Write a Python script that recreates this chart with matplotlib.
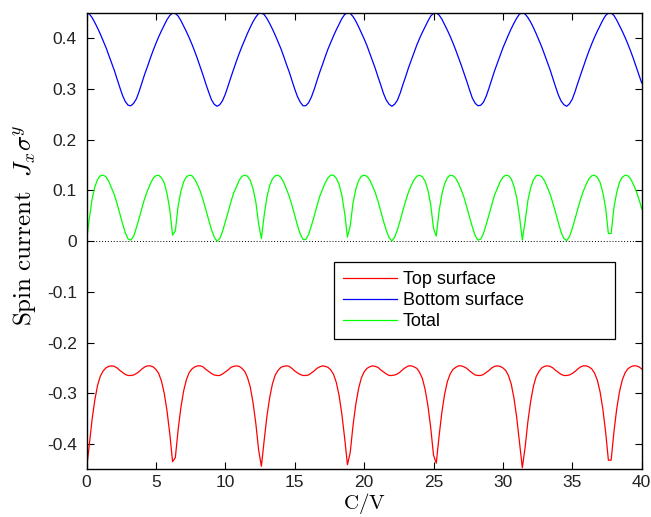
import numpy as np
import matplotlib
matplotlib.use("Agg")
import matplotlib.pyplot as plt

plt.rcParams['mathtext.fontset'] = 'cm'
plt.rcParams['font.family'] = ['Liberation Sans', 'DejaVu Sans']

# sample grid of the abscissa c/V (0 to 40, step 0.2)
c_over_v = np.linspace(0, 40, 201)

top_surface = [
    -0.450, -0.402, -0.352, -0.313, -0.284, -0.266, -0.256, -0.250, -0.247, -0.246,
    -0.247, -0.250, -0.255, -0.259, -0.263, -0.265, -0.265, -0.264, -0.261, -0.257,
    -0.252, -0.248, -0.246, -0.246, -0.248, -0.253, -0.261, -0.276, -0.300, -0.335,
    -0.380, -0.435, -0.427, -0.372, -0.328, -0.295, -0.273, -0.259, -0.252, -0.248,
    -0.246, -0.246, -0.248, -0.253, -0.257, -0.261, -0.264, -0.265, -0.265, -0.262,
    -0.258, -0.254, -0.249, -0.247, -0.246, -0.247, -0.251, -0.257, -0.269, -0.288,
    -0.319, -0.360, -0.412, -0.444, -0.393, -0.345, -0.308, -0.281, -0.264, -0.255,
    -0.249, -0.247, -0.246, -0.247, -0.251, -0.256, -0.260, -0.263, -0.265, -0.265,
    -0.264, -0.260, -0.256, -0.251, -0.248, -0.246, -0.247, -0.249, -0.254, -0.263,
    -0.279, -0.305, -0.342, -0.389, -0.441, -0.417, -0.364, -0.322, -0.291, -0.270,
    -0.258, -0.251, -0.248, -0.246, -0.247, -0.249, -0.254, -0.258, -0.262, -0.265,
    -0.265, -0.264, -0.262, -0.258, -0.253, -0.249, -0.246, -0.246, -0.248, -0.251,
    -0.259, -0.271, -0.293, -0.325, -0.368, -0.422, -0.438, -0.385, -0.338, -0.302,
    -0.277, -0.262, -0.253, -0.249, -0.246, -0.246, -0.248, -0.251, -0.256, -0.260,
    -0.264, -0.265, -0.265, -0.263, -0.259, -0.255, -0.250, -0.247, -0.246, -0.247,
    -0.250, -0.255, -0.265, -0.282, -0.310, -0.349, -0.398, -0.447, -0.407, -0.356,
    -0.316, -0.286, -0.267, -0.257, -0.250, -0.247, -0.246, -0.247, -0.250, -0.255,
    -0.259, -0.263, -0.265, -0.265, -0.264, -0.261, -0.257, -0.252, -0.248, -0.246,
    -0.246, -0.248, -0.252, -0.260, -0.274, -0.297, -0.331, -0.376, -0.432, -0.432,
    -0.376, -0.331, -0.297, -0.274, -0.260, -0.252, -0.248, -0.246, -0.246, -0.248,
    -0.252,
]

bottom_surface = [
    0.450, 0.448, 0.441, 0.431, 0.420, 0.408, 0.395, 0.382, 0.367, 0.352,
    0.337, 0.320, 0.303, 0.287, 0.275, 0.268, 0.267, 0.272, 0.281, 0.296,
    0.313, 0.330, 0.345, 0.361, 0.376, 0.390, 0.403, 0.415, 0.426, 0.437,
    0.445, 0.450, 0.449, 0.444, 0.435, 0.424, 0.413, 0.401, 0.388, 0.374,
    0.359, 0.343, 0.327, 0.310, 0.294, 0.279, 0.270, 0.266, 0.269, 0.277,
    0.290, 0.306, 0.323, 0.339, 0.355, 0.370, 0.384, 0.397, 0.410, 0.422,
    0.433, 0.442, 0.449, 0.450, 0.447, 0.439, 0.429, 0.418, 0.406, 0.393,
    0.380, 0.365, 0.349, 0.334, 0.317, 0.300, 0.285, 0.274, 0.267, 0.267,
    0.273, 0.284, 0.299, 0.316, 0.333, 0.348, 0.364, 0.379, 0.392, 0.405,
    0.417, 0.428, 0.439, 0.447, 0.450, 0.449, 0.443, 0.434, 0.423, 0.411,
    0.399, 0.386, 0.371, 0.356, 0.341, 0.324, 0.308, 0.291, 0.278, 0.270,
    0.266, 0.270, 0.278, 0.292, 0.309, 0.325, 0.342, 0.357, 0.372, 0.387,
    0.400, 0.412, 0.423, 0.434, 0.444, 0.449, 0.450, 0.446, 0.438, 0.427,
    0.416, 0.404, 0.391, 0.377, 0.362, 0.347, 0.331, 0.315, 0.298, 0.282,
    0.272, 0.267, 0.268, 0.274, 0.286, 0.302, 0.319, 0.336, 0.351, 0.366,
    0.381, 0.394, 0.407, 0.419, 0.430, 0.440, 0.448, 0.450, 0.448, 0.441,
    0.432, 0.421, 0.409, 0.396, 0.383, 0.368, 0.353, 0.338, 0.321, 0.304,
    0.288, 0.276, 0.269, 0.266, 0.271, 0.280, 0.295, 0.312, 0.328, 0.344,
    0.360, 0.375, 0.389, 0.402, 0.414, 0.425, 0.436, 0.445, 0.450, 0.450,
    0.445, 0.436, 0.425, 0.414, 0.402, 0.389, 0.375, 0.360, 0.344, 0.328,
    0.312,
]

total = [
    0.000, 0.044, 0.083, 0.107, 0.122, 0.129, 0.130, 0.127, 0.118, 0.105,
    0.092, 0.074, 0.054, 0.034, 0.016, 0.004, 0.002, 0.010, 0.027, 0.046,
    0.066, 0.085, 0.100, 0.113, 0.124, 0.129, 0.130, 0.125, 0.115, 0.094,
    0.062, 0.012, 0.020, 0.069, 0.098, 0.117, 0.127, 0.130, 0.129, 0.122,
    0.111, 0.098, 0.081, 0.062, 0.042, 0.023, 0.008, 0.000, 0.005, 0.019,
    0.038, 0.057, 0.077, 0.095, 0.107, 0.120, 0.128, 0.130, 0.128, 0.120,
    0.103, 0.077, 0.034, 0.005, 0.051, 0.087, 0.110, 0.123, 0.129, 0.130,
    0.126, 0.116, 0.103, 0.089, 0.071, 0.051, 0.031, 0.014, 0.003, 0.003,
    0.013, 0.030, 0.049, 0.069, 0.088, 0.102, 0.115, 0.125, 0.130, 0.130,
    0.124, 0.112, 0.090, 0.055, 0.008, 0.030, 0.075, 0.102, 0.119, 0.128,
    0.130, 0.128, 0.121, 0.109, 0.096, 0.079, 0.059, 0.039, 0.021, 0.007,
    0.000, 0.008, 0.022, 0.041, 0.061, 0.080, 0.097, 0.110, 0.121, 0.128,
    0.130, 0.127, 0.118, 0.100, 0.072, 0.025, 0.010, 0.059, 0.092, 0.113,
    0.125, 0.130, 0.129, 0.124, 0.114, 0.101, 0.086, 0.067, 0.047, 0.028,
    0.011, 0.002, 0.004, 0.015, 0.033, 0.052, 0.072, 0.091, 0.104, 0.117,
    0.126, 0.130, 0.129, 0.123, 0.108, 0.085, 0.048, 0.002, 0.039, 0.080,
    0.105, 0.121, 0.129, 0.130, 0.127, 0.119, 0.106, 0.093, 0.075, 0.056,
    0.036, 0.017, 0.005, 0.001, 0.009, 0.025, 0.044, 0.064, 0.083, 0.099,
    0.112, 0.123, 0.129, 0.130, 0.126, 0.116, 0.096, 0.066, 0.015, 0.015,
    0.066, 0.096, 0.116, 0.126, 0.130, 0.129, 0.123, 0.112, 0.099, 0.083,
    0.064,
]

x_ticks = [0, 5, 10, 15, 20, 25, 30, 35, 40]
y_ticks = [-0.4, -0.3, -0.2, -0.1, 0, 0.1, 0.2, 0.3, 0.4]
y_tick_labels = ['-0.4', '-0.3', '-0.2', '-0.1', '0', '0.1', '0.2', '0.3', '0.4']
series_labels = ['Top surface', 'Bottom surface', 'Total']

fig = plt.figure(figsize=(6.51, 5.17), dpi=100)
ax = fig.add_axes([0.1329, 0.0923, 0.8528, 0.8826])

ax.plot(c_over_v, top_surface, color='#ff0000', lw=0.9, label=series_labels[0])
ax.plot(c_over_v, bottom_surface, color='#0000ff', lw=0.9, label=series_labels[1])
ax.plot(c_over_v, total, color='#00ff00', lw=0.9, label=series_labels[2])
ax.axhline(0, color='black', lw=0.7, ls=(0, (1, 2)), zorder=1)

ax.set_xlim(0, 40)
ax.set_ylim(-0.45, 0.45)
ax.set_xticks(x_ticks)
ax.set_xticklabels([str(t) for t in x_ticks])
ax.set_yticks(y_ticks)
ax.set_yticklabels(y_tick_labels)
ax.tick_params(direction='in', length=5, width=0.8, top=True, right=True,
               labelsize=12.5, colors='black', labelcolor='#222222', pad=7)
ax.tick_params(axis='x', pad=4)
for s in ax.spines.values():
    s.set_linewidth(1.0)
    s.set_color('black')

ax.set_xlabel(r'$\mathrm{C/V}$', fontsize=15)
ax.xaxis.set_label_coords(0.5, -0.047)
ax.set_ylabel(r'$\mathrm{Spin\ current}\ \ J_x\sigma^y$', fontsize=18, labelpad=2)
ax.yaxis.set_label_coords(-0.088, 0.535)

leg = ax.legend(loc='upper left', bbox_to_anchor=(0.446, 0.292, 0.506, 0.162),
                mode='expand', fancybox=False, framealpha=1, edgecolor='black',
                fontsize=13, handlelength=3.0, handletextpad=0.3,
                borderpad=0.5, labelspacing=0.22, borderaxespad=0)
leg.get_frame().set_linewidth(0.9)

fig.savefig('out.png', dpi=100)
